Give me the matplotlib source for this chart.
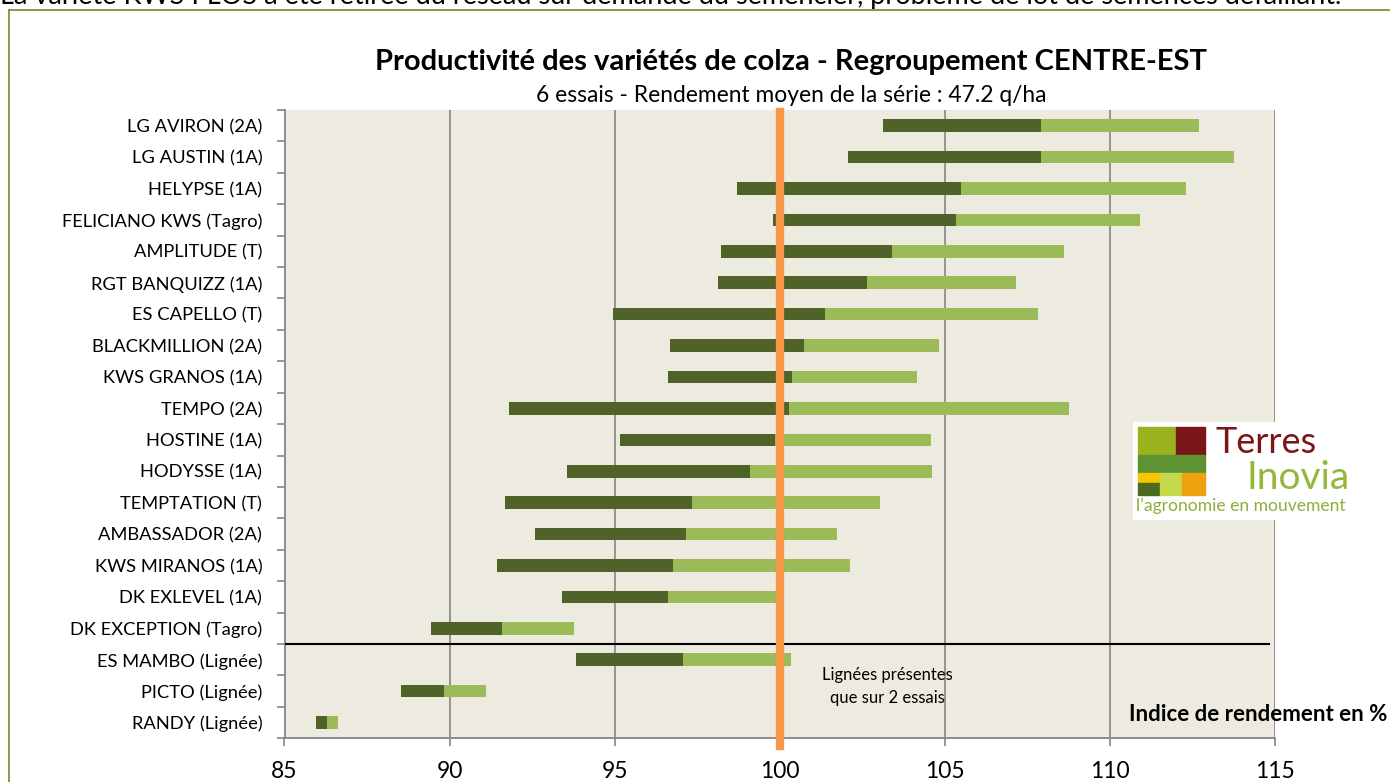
import numpy as np
import matplotlib
matplotlib.use("Agg")
import matplotlib.pyplot as plt
from matplotlib.patches import Rectangle

plt.rcParams['font.family'] = ['Lato', 'DejaVu Sans']

varieties = [
    "LG AVIRON (2A)", "LG AUSTIN (1A)", "HELYPSE (1A)", "FELICIANO KWS (Tagro)",
    "AMPLITUDE (T)", "RGT BANQUIZZ (1A)", "ES CAPELLO (T)", "BLACKMILLION (2A)",
    "KWS GRANOS (1A)", "TEMPO (2A)", "HOSTINE (1A)", "HODYSSE (1A)",
    "TEMPTATION (T)", "AMBASSADOR (2A)", "KWS MIRANOS (1A)", "DK EXLEVEL (1A)",
    "DK EXCEPTION (Tagro)", "ES MAMBO (Lignée)", "PICTO (Lignée)", "RANDY (Lignée)",
]
# min / mean / max yield index (%)
idx_min = [103.14, 102.07, 98.71, 99.80, 98.21, 98.13, 94.94, 96.68, 96.61, 91.79,
           95.17, 93.57, 91.67, 92.60, 91.45, 93.39, 89.44, 93.82, 88.54, 85.96]
idx_mean = [107.92, 107.92, 105.49, 105.35, 103.40, 102.64, 101.37, 100.73, 100.37, 100.27,
            99.87, 99.10, 97.35, 97.17, 96.77, 96.63, 91.59, 97.08, 89.83, 86.28]
idx_max = [112.71, 113.75, 112.31, 110.91, 108.60, 107.16, 107.81, 104.82, 104.15, 108.77,
           104.57, 104.62, 103.03, 101.74, 102.12, 99.90, 93.78, 100.34, 91.11, 86.62]
x_ticks = [85, 90, 95, 100, 105, 110, 115]
n_lignees = 3

W, H = 1390, 782
fig = plt.figure(figsize=(W / 100, H / 100), dpi=100)
fig.patch.set_facecolor("white")


def px(x, y):
    return x / W, 1 - y / H


# outer frame (top and left edges visible)
fig.add_artist(plt.Line2D([9 / W, 1.01], [1 - 10 / H, 1 - 10 / H], color="#77933C", lw=1.3))
fig.add_artist(plt.Line2D([9 / W, 9 / W], [1 - 10 / H, -0.01], color="#77933C", lw=1.3))

fig.text(*px(0, 4), "La variété KWS FLOS a été retirée du réseau sur demande du semencier, "
         "problème de lot de semences défaillant.", fontsize=19.5, ha="left", va="baseline")
fig.text(*px(791, 70), "Productivité des variétés de colza - Regroupement CENTRE-EST",
         fontsize=21, fontweight="bold", ha="center", va="baseline")
fig.text(*px(791, 102), "6 essais - Rendement moyen de la série : 47.2 q/ha",
         fontsize=16.4, ha="center", va="baseline")

ax = fig.add_axes([284.5 / W, (H - 738.3) / H, (1275 - 284.5) / W, (738.3 - 110) / H])
ax.set_facecolor("#EDEBE0")

y = np.arange(len(varieties))
mn, me, mx = np.array(idx_min), np.array(idx_mean), np.array(idx_max)
ax.barh(y, me - mn, left=mn, height=0.4, color="#4F6228", zorder=3)
ax.barh(y, mx - me, left=me, height=0.4, color="#9BBB59", zorder=3)

ax.set_xlim(85, 115)
ax.set_ylim(len(varieties) - 0.5, -0.5)
ax.set_xticks(x_ticks)
ax.xaxis.grid(True, color="#868686", lw=1.2, zorder=1)
ax.set_axisbelow(True)

ax.set_yticks(y)
ax.set_yticklabels(varieties, fontsize=13.2)
ax.set_yticks(np.arange(-0.5, len(varieties) + 0.5, 1), minor=True)
ax.tick_params(axis="y", which="major", length=0, pad=16)
ax.tick_params(axis="y", which="minor", length=6, width=1.2, color="#868686")
ax.tick_params(axis="x", length=6, width=1.2, color="#868686", labelsize=16.5, pad=10)

for s in ["top", "right"]:
    ax.spines[s].set_visible(False)
for s in ["left", "bottom"]:
    ax.spines[s].set_color("#868686")
    ax.spines[s].set_linewidth(1.3)

ax.axvline(100, ymin=-0.012, ymax=0.997, color="#F79646", lw=6, zorder=5, clip_on=False)
ax.axhline(len(varieties) - n_lignees - 0.5, xmin=0, xmax=0.994, color="black", lw=1.5, zorder=4)

fig.text(*px(887, 680), "Lignées présentes", fontsize=12, ha="center", va="baseline")
fig.text(*px(887, 703), "que sur 2 essais", fontsize=12, ha="center", va="baseline")
fig.text(*px(1387, 721), "Indice de rendement en %", fontsize=16, fontweight="bold",
         ha="right", va="baseline")

# Terres Inovia logo
lg = fig.add_axes([1133 / W, (H - 520) / H, (1350 - 1133) / W, (520 - 422) / H])
lg.set_xlim(1133, 1350)
lg.set_ylim(520, 422)
lg.set_facecolor("white")
lg.axis("off")
lg.add_patch(Rectangle((1133, 422), 217, 98, color="white"))
blocks = [
    (1138, 427, 37.5, 28, "#9CB21C"),
    (1175.5, 427, 29.5, 28, "#7A1518"),
    (1138, 455, 67, 18.3, "#5E9332"),
    (1138, 473.3, 22, 9.7, "#F6C400"),
    (1138, 483, 22, 12, "#4A6A1E"),
    (1160, 473.3, 22, 21.7, "#C6D84C"),
    (1182, 473.3, 23, 21.7, "#EFA20E"),
]
for bx, by, bw, bh, bc in blocks:
    lg.add_patch(Rectangle((bx, by), bw, bh, color=bc))
lg.text(1216, 453, "Terres", fontsize=26, color="#7A1518", va="baseline", ha="left")
lg.text(1350, 489, "Inovia", fontsize=28, color="#93B83A", va="baseline", ha="right")
lg.text(1136, 511, "l\u2019agronomie en mouvement", fontsize=12.6, color="#8DAF3B",
        va="baseline", ha="left")

fig.savefig("out.png", dpi=100)
